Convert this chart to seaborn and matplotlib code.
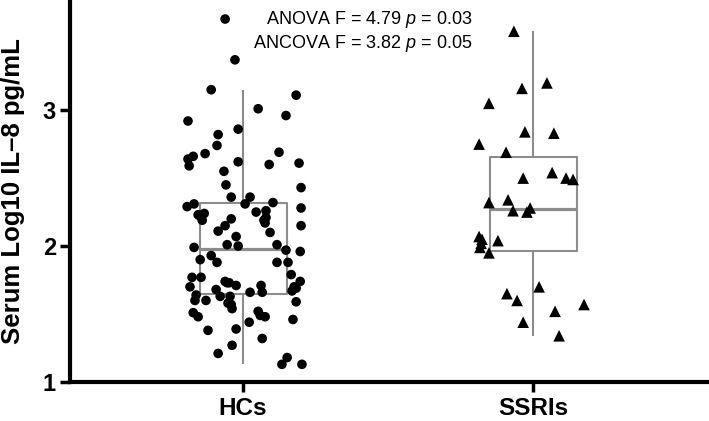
import matplotlib
matplotlib.use("Agg")
import matplotlib.pyplot as plt
import seaborn as sns
import pandas as pd

# Data
groups = ["HCs", "SSRIs"]

hc_values = [
    3.67, 3.37, 3.15, 3.11, 3.01, 2.96, 2.92, 2.86, 2.82, 2.74,
    2.68, 2.66, 2.64, 2.69, 2.59, 2.62, 2.60, 2.61, 2.55, 2.45,
    2.43, 2.36, 2.36, 2.32, 2.31, 2.31, 2.29, 2.28, 2.26, 2.25,
    2.24, 2.23, 2.22, 2.21, 2.20, 2.19, 2.19, 2.17, 2.15, 2.15,
    2.11, 2.10, 2.07, 2.01, 2.01, 2.00, 1.99, 1.97, 1.96, 1.93,
    1.90, 1.88, 1.88, 1.88, 1.79, 1.77, 1.77, 1.74, 1.73, 1.73,
    1.74, 1.71, 1.71, 1.70, 1.70, 1.69, 1.67, 1.68, 1.66, 1.66,
    1.64, 1.63, 1.63, 1.60, 1.60, 1.58, 1.59, 1.57, 1.54, 1.52,
    1.51, 1.48, 1.49, 1.48, 1.44, 1.46, 1.38, 1.39, 1.32, 1.27,
    1.21, 1.18, 1.13, 1.13,
]
hc_jitter = [
    -0.062, -0.028, -0.110, 0.183, 0.052, 0.148, -0.190, -0.017, -0.086, -0.090,
    -0.131, -0.172, -0.190, 0.124, -0.186, -0.017, 0.090, 0.193, -0.066, -0.059,
    0.200, -0.041, 0.024, 0.103, 0.007, -0.169, -0.193, 0.200, 0.079, 0.045,
    -0.134, -0.155, -0.148, 0.079, -0.041, -0.141, 0.072, 0.076, -0.062, 0.200,
    -0.086, 0.093, -0.024, -0.055, 0.117, -0.017, -0.169, 0.148, 0.197, -0.110,
    -0.148, -0.090, 0.117, 0.155, 0.166, -0.176, -0.145, -0.062, -0.048, -0.055,
    0.197, -0.024, 0.062, -0.183, 0.176, 0.183, 0.169, -0.093, 0.066, 0.024,
    -0.162, -0.045, -0.079, -0.166, -0.128, -0.052, 0.183, -0.041, -0.038, 0.052,
    -0.172, -0.155, 0.059, 0.076, 0.021, 0.172, -0.121, -0.024, 0.066, -0.038,
    -0.086, 0.152, 0.134, 0.203,
]

ssri_values = [
    3.58, 3.16, 3.20, 3.05, 2.84, 2.83, 2.75, 2.69, 2.50, 2.54,
    2.50, 2.49, 2.34, 2.32, 2.26, 2.25, 2.28, 2.07, 2.05, 1.99,
    2.04, 1.95, 2.02, 1.70, 1.65, 1.60, 1.52, 1.57, 1.44, 1.34,
]
ssri_jitter = [
    -0.066, -0.038, 0.048, -0.152, -0.028, 0.072, -0.186, -0.093, -0.034, 0.066,
    0.114, 0.138, -0.086, -0.152, -0.069, -0.021, -0.010, -0.186, -0.176, -0.183,
    -0.121, -0.152, -0.179, 0.021, -0.090, -0.055, 0.076, 0.176, -0.034, 0.090,
]

stats_lines = ["ANOVA F = 4.79 $\\it{p}$ = 0.03", "ANCOVA F = 3.82 $\\it{p}$ = 0.05"]

df = pd.DataFrame({
    "group": [groups[0]] * len(hc_values) + [groups[1]] * len(ssri_values),
    "value": hc_values + ssri_values,
    "jitter": hc_jitter + ssri_jitter,
})
df["pos"] = df["group"].map({g: i for i, g in enumerate(groups)}) + df["jitter"]

sns.set_style("ticks")
plt.rcParams["font.family"] = ["Liberation Sans", "DejaVu Sans"]
plt.rcParams["mathtext.fontset"] = "custom"
plt.rcParams["mathtext.rm"] = "Liberation Sans"
plt.rcParams["mathtext.it"] = "Liberation Sans:italic"
plt.rcParams["text.color"] = "black"
plt.rcParams["axes.labelcolor"] = "black"
plt.rcParams["xtick.color"] = "black"
plt.rcParams["ytick.color"] = "black"

fig = plt.figure(figsize=(7.09, 4.21), dpi=100)
ax = fig.add_axes([70 / 709, 39 / 421, 639 / 709, 382 / 421])

box_color = "#8c8c8c"
sns.boxplot(data=df, x="group", y="value", order=groups, ax=ax,
            fill=False, color=box_color, width=0.3, linewidth=1.5,
            showfliers=False, showcaps=False,
            medianprops=dict(linewidth=2.3, color=box_color))

sns.scatterplot(data=df[df["group"] == "HCs"], x="pos", y="value", ax=ax,
                marker="o", color="black", s=48, edgecolor="none",
                legend=False, zorder=3)
sns.scatterplot(data=df[df["group"] == "SSRIs"], x="pos", y="value", ax=ax,
                marker="^", color="black", s=70, edgecolor="none",
                legend=False, zorder=3)

ax.set_xlim(-0.597, 1.607)
ax.set_ylim(1, 3.81)
ax.set_xticks([0, 1])
ax.set_xticklabels(groups)
ax.set_yticks([1, 2, 3])
ax.set_xlabel("")
ax.set_ylabel("Serum Log10 IL\u20138 pg/mL", fontsize=18.5, fontweight="bold")
ax.yaxis.set_label_coords(-0.07, 0.5)

for side in ["top", "right"]:
    ax.spines[side].set_visible(False)
for side in ["left", "bottom"]:
    ax.spines[side].set_linewidth(3)
    ax.spines[side].set_color("black")
ax.tick_params(axis="both", length=7, width=2.5, color="black",
               labelcolor="black", pad=3)
ax.tick_params(axis="y", labelsize=17)
ax.tick_params(axis="x", labelsize=17.5, pad=3.5)
for lab in ax.get_xticklabels() + ax.get_yticklabels():
    lab.set_fontweight("bold")

ax.text(0.79, 3.67, stats_lines[0], fontsize=13, ha="right", va="center")
ax.text(0.79, 3.49, stats_lines[1], fontsize=13, ha="right", va="center")

fig.savefig("out.png", dpi=100)
